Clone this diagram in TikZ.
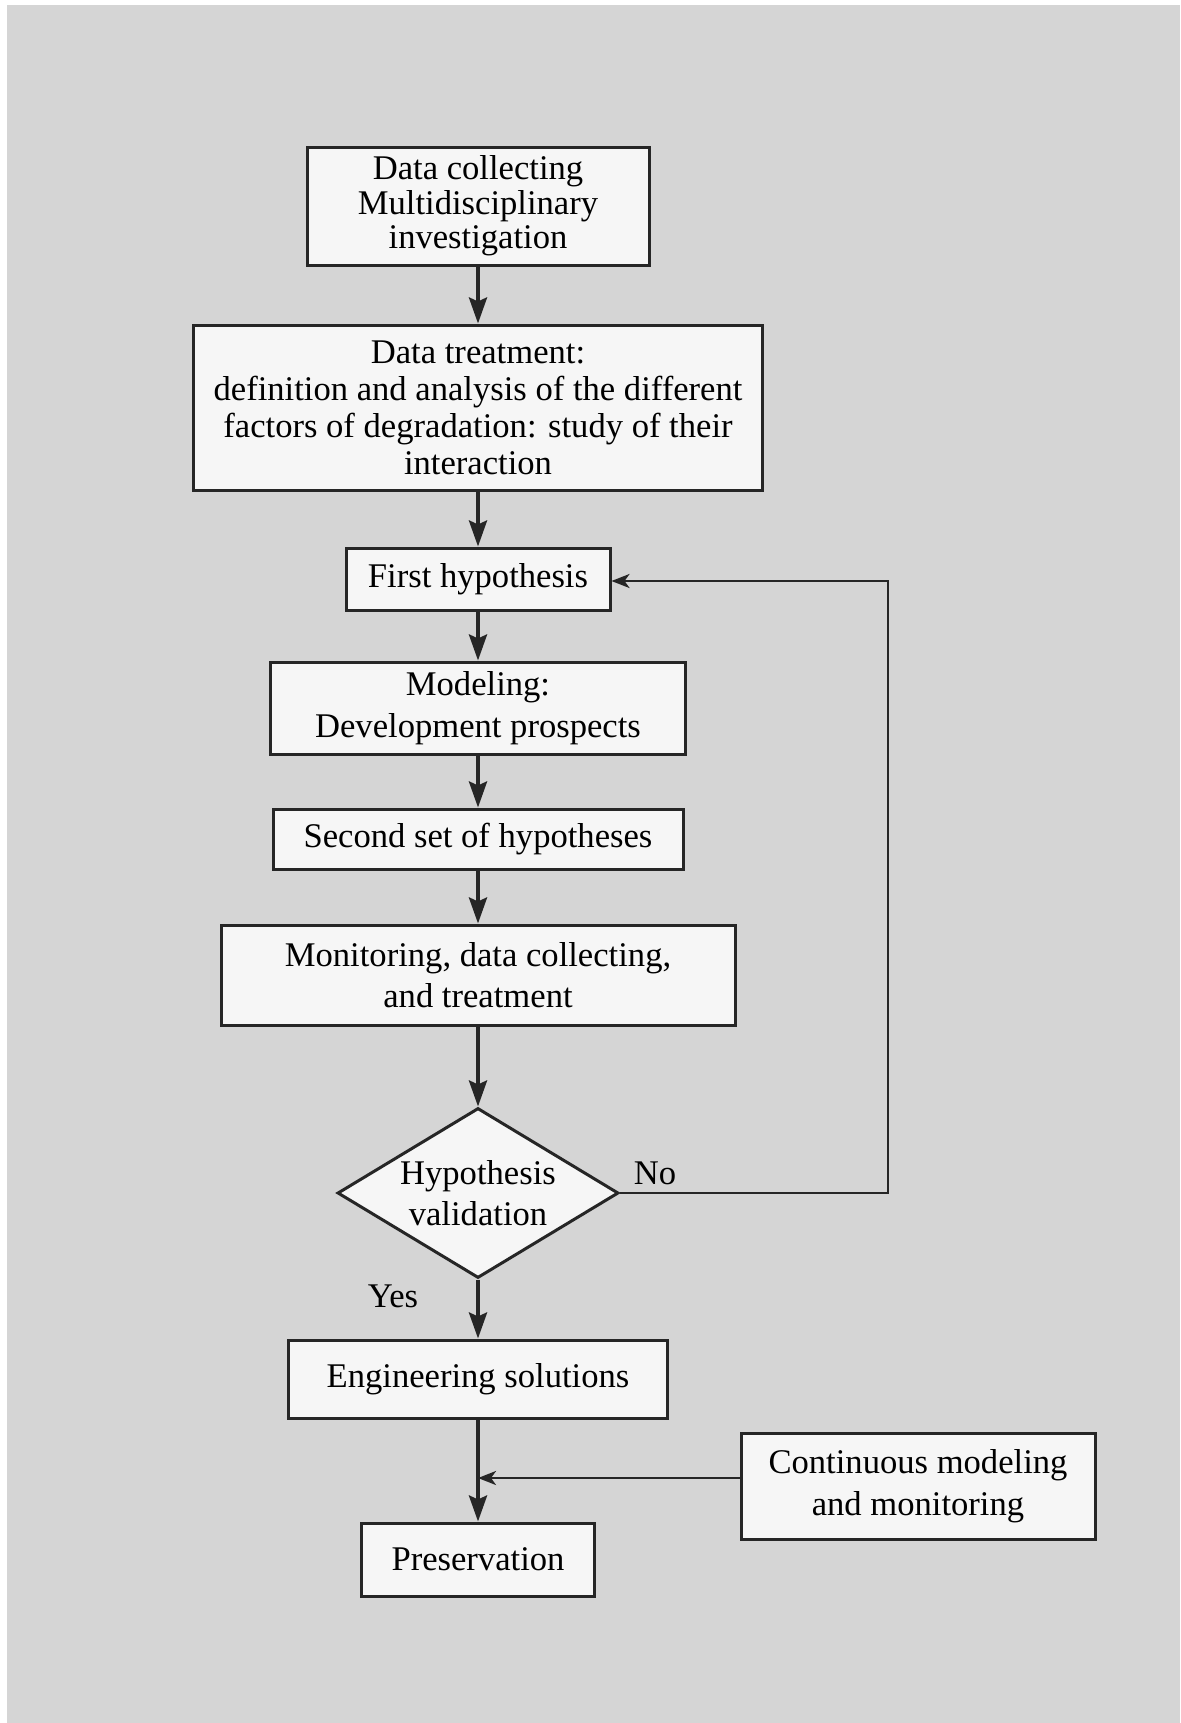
\documentclass[tikz,border=0pt]{standalone}
\usepackage{fontspec}
\setmainfont{Liberation Serif}
\usetikzlibrary{shapes.geometric,arrows.meta}
\definecolor{fondo}{HTML}{D5D5D5}
\definecolor{caja}{HTML}{F6F6F6}
\begin{document}
\begin{tikzpicture}[x=0.5pt,y=-0.5pt,
  paso/.style={draw=black!85,line width=1.5pt,fill=caja,align=center,
    inner sep=0pt,font=\fontsize{17.3}{20.8}\selectfont},
  decision/.style={paso,diamond,aspect=1.65},
  flecha/.style={draw=black!85,line width=2pt,
    -{Stealth[length=13pt,width=9pt,inset=2pt]}},
  retorno/.style={draw=black!85,line width=1.3pt,
    -{Stealth[length=9pt,width=7pt,inset=2.5pt]}},
  etiqueta/.style={font=\fontsize{17.3}{20.8}\selectfont}]
  % Fondo
  \useasboundingbox (0,0) rectangle (1180,1723);
  \fill[white] (0,0) rectangle (1180,1723);
  \fill[fondo] (7,5) rectangle (1180,1723);
  % Cajas
  \node[paso,minimum width=171pt,minimum height=59pt,
    font=\fontsize{17.3}{17.3}\selectfont] (datos) at (478,206)
    {Data collecting\\Multidisciplinary\\investigation};
  \node[paso,minimum width=284.5pt,minimum height=82.5pt,
    font=\fontsize{17.3}{18.5}\selectfont] (tratam) at (478,407.5)
    {Data treatment:\\definition and analysis of the different\\factors of degradation: study of their\\interaction};
  \node[paso,minimum width=132pt,minimum height=31pt] (primera) at (478,579)
    {First hypothesis};
  \node[paso,minimum width=207.5pt,minimum height=46pt] (modelo) at (478,708)
    {Modeling:\\Development prospects};
  \node[paso,minimum width=205pt,minimum height=30pt] (segunda) at (478,839)
    {Second set of hypotheses};
  \node[paso,minimum width=257pt,minimum height=50pt] (monitoreo) at (478,975)
    {Monitoring, data collecting,\\and treatment};
  \node[decision,minimum width=140.5pt,minimum height=85pt] (valid) at (478,1193)
    {Hypothesis\\validation};
  \node[paso,minimum width=189.5pt,minimum height=39pt] (ingen) at (478,1379)
    {Engineering solutions};
  \node[paso,minimum width=116.5pt,minimum height=36.5pt] (preserv) at (478,1559.5)
    {Preservation};
  \node[paso,minimum width=177pt,minimum height=53pt] (continuo) at (918,1486)
    {Continuous modeling\\and monitoring};
  % Etiquetas
  \node[etiqueta] (no) at (655,1173) {No};
  \node[etiqueta] (si) at (393,1296) {Yes};
  % Flechas
  \draw[flecha] (datos) -- (tratam);
  \draw[flecha] (tratam) -- (primera);
  \draw[flecha] (primera) -- (modelo);
  \draw[flecha] (modelo) -- (segunda);
  \draw[flecha] (segunda) -- (monitoreo);
  \draw[flecha] (monitoreo) -- (valid);
  \draw[flecha] (valid) -- (ingen);
  \draw[flecha] (ingen) -- (preserv);
  % Retorno y aporte lateral
  \coordinate (esquina) at (888,581);
  \draw[retorno] (valid.east) -| (esquina) -- (primera.east |- esquina);
  \draw[retorno] ([yshift=4pt]continuo.west) -- ([yshift=4pt]continuo.west -| ingen);
\end{tikzpicture}
\end{document}
